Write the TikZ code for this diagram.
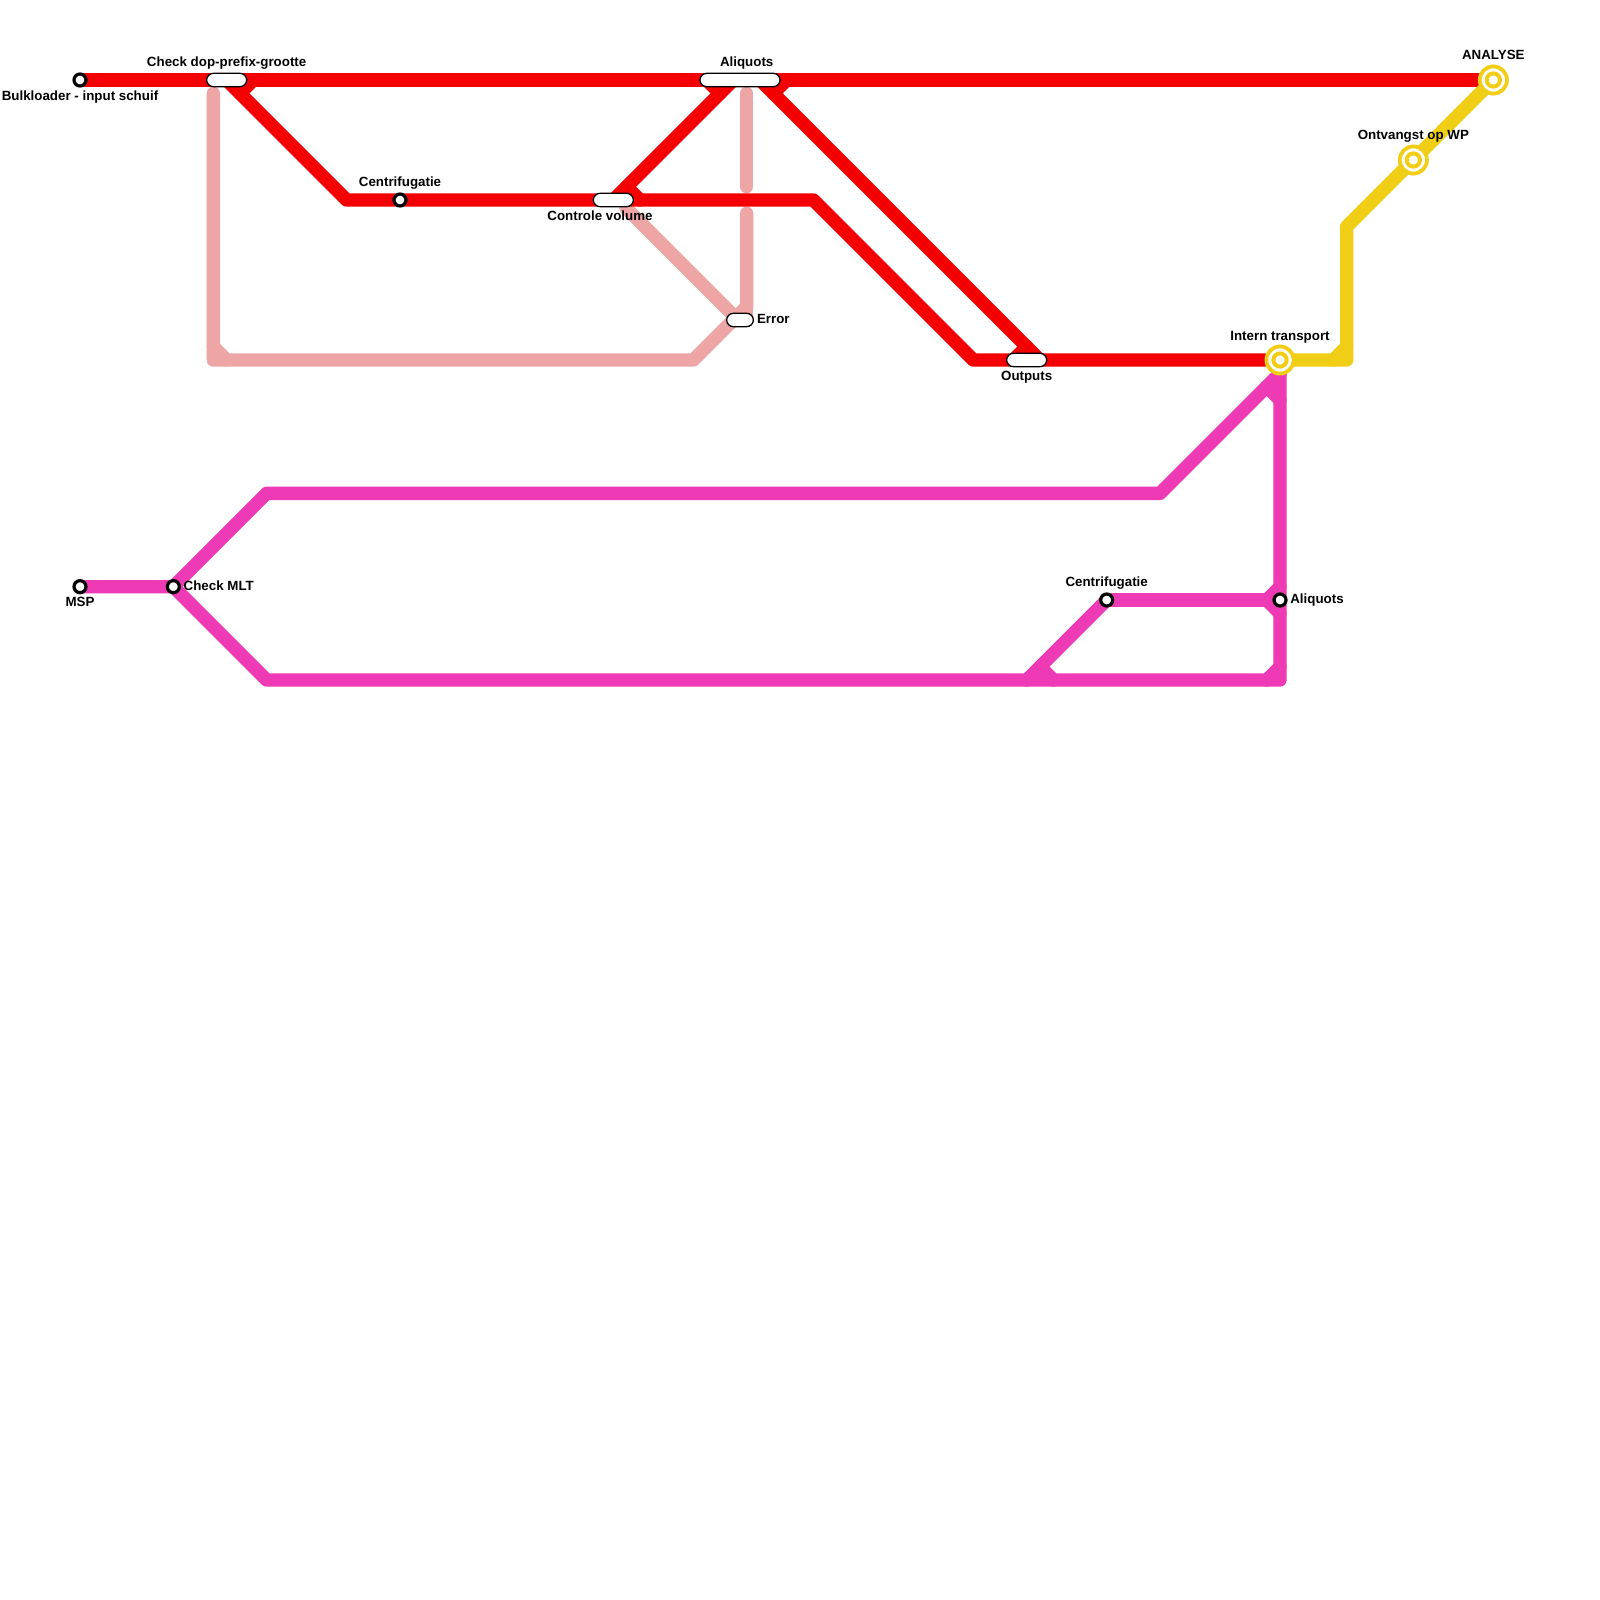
\documentclass[tikz,border=0pt]{standalone}
\usepackage{fontspec}
\setmainfont{Liberation Sans}
\definecolor{cred}{HTML}{F40000}
\definecolor{clight}{HTML}{EDA5A5}
\definecolor{cpink}{HTML}{EF3AB5}
\definecolor{cyellow}{HTML}{F0CE15}
\tikzset{
  route/.style={line width=6.67pt,line cap=round,line join=round},
  redline/.style={route,draw=cred},
  lightline/.style={route,draw=clight},
  pinkline/.style={route,draw=cpink},
  yellowline/.style={route,draw=cyellow},
  pill/.style={draw=black,fill=white,line width=.65pt,rounded corners=3.33pt,minimum height=6.67pt,inner sep=0pt,outer sep=0pt},
  stop/.style={circle,draw=black,fill=white,line width=1.6pt,minimum size=6pt,inner sep=0pt,outer sep=0pt},
  hub/.style={circle,draw=cyellow,fill=white,line width=1.9pt,minimum size=13.6pt,inner sep=0pt,outer sep=0pt},
  hubcore/.style={circle,draw=cyellow,fill=white,line width=2pt,minimum size=6.6pt,inner sep=0pt,outer sep=0pt},
  lab/.style={font=\bfseries\fontsize{6.67pt}{8pt}\selectfont,text=black,inner sep=0pt,anchor=base},
  labl/.style={lab,anchor=base west},
}
\begin{document}
\begin{tikzpicture}[x=.5pt,y=-.5pt]
\useasboundingbox (0,0) rectangle (1600,1600);
\fill[white] (0,0) rectangle (1600,1600);
% way points
\coordinate (bulk) at (80,80);
\coordinate (ana) at (1493.33,80);
\coordinate (r0) at (226.67,80);
\coordinate (r1) at (253.33,80);
\coordinate (r2) at (240,93.33);
\coordinate (r3) at (346.67,200);
\coordinate (r4) at (813.33,200);
\coordinate (r5) at (973.33,360);
\coordinate (int) at (1280,360);
\coordinate (r6) at (706.67,80);
\coordinate (r7) at (720,93.33);
\coordinate (r7a) at (733.33,80);
\coordinate (r8) at (626.67,186.67);
\coordinate (r8a) at (613.33,200);
\coordinate (r9) at (640,200);
\coordinate (r10) at (786.67,80);
\coordinate (r11) at (773.33,93.33);
\coordinate (r11a) at (760,80);
\coordinate (r12) at (1040,360);
\coordinate (r13) at (1026.67,346.67);
\coordinate (r14) at (1013.33,360);
\coordinate (l1) at (213.33,93.33);
\coordinate (l2) at (213.33,360);
\coordinate (l3) at (693.33,360);
\coordinate (l4) at (746.67,306.67);
\coordinate (l4a) at (746.67,320);
\coordinate (l5) at (746.67,213.33);
\coordinate (l6) at (746.67,93.33);
\coordinate (l7) at (746.67,186.67);
\coordinate (l8) at (213.33,346.67);
\coordinate (l9) at (226.67,360);
\coordinate (l10) at (626,208);
\coordinate (l11) at (733,315);
\coordinate (msp) at (80,586.67);
\coordinate (mlt) at (173.33,586.67);
\coordinate (p1) at (266.67,493.33);
\coordinate (p2) at (1160,493.33);
\coordinate (p3) at (1266.67,386.67);
\coordinate (p4) at (1280,400);
\coordinate (p5) at (1280,373.33);
\coordinate (p6) at (266.67,680);
\coordinate (p7) at (1280,680);
\coordinate (p8) at (1266.67,680);
\coordinate (p9) at (1280,666.67);
\coordinate (cen) at (1106.67,600);
\coordinate (ali) at (1280,600);
\coordinate (p10) at (1040,666.67);
\coordinate (p11) at (1053.33,680);
\coordinate (p12) at (1026.67,680);
\coordinate (p13) at (1266.67,600);
\coordinate (p14) at (1280,586.67);
\coordinate (p15) at (1280,613.33);
\coordinate (y1) at (1346.67,360);
\coordinate (y2) at (1346.67,226.67);
\coordinate (y3) at (1333.33,360);
\coordinate (y4) at (1346.67,346.67);
\coordinate (ont) at (1413.33,160);
\coordinate (cen1) at (400,200);
% light routes
\draw[lightline] (l1) -- (l2) -- (l3) -- (l4) -- (l5);
\draw[lightline] (l4) -- (l4a);
\draw[lightline] (l6) -- (l7);
\draw[lightline] (l8) -- (l9);
\draw[lightline] (l10) -- (l11);
% red routes
\draw[redline] (bulk) -- (ana);
\draw[redline] (r0) -- (r3) -- (r4) -- (r5) -- (int);
\draw[redline] (r1) -- (r2);
\draw[redline] (r7a) -- (r8a);
\draw[redline] (r6) -- (r7);
\draw[redline] (r8) -- (r9);
\draw[redline] (r11a) -- (r12);
\draw[redline] (r10) -- (r11);
\draw[redline] (r13) -- (r14);
% pink routes
\draw[pinkline] (msp) -- (mlt) -- (p1) -- (p2) -- (p5);
\draw[pinkline] (p3) -- (p4);
\draw[pinkline] (mlt) -- (p6) -- (p7) -- (int);
\draw[pinkline] (p8) -- (p9);
\draw[pinkline] (cen) -- (ali);
\draw[pinkline] (cen) -- (p10) -- (p11);
\draw[pinkline] (p10) -- (p12);
\draw[pinkline] (p13) -- (p14);
\draw[pinkline] (p13) -- (p15);
% yellow routes
\draw[yellowline] (int) -- (y1) -- (y2) -- (ana);
\draw[yellowline] (y3) -- (y4);
% pills
\node[pill,minimum width=20pt] (sdop) at (226.67,80) {};
\node[pill,minimum width=40pt] (sali) at (740,80) {};
\node[pill,minimum width=20pt] (scon) at (613.33,200) {};
\node[pill,minimum width=20pt] (sout) at (1026.67,360) {};
\node[pill,minimum width=13.33pt] (serr) at (740,320) {};
% stops
\node[stop] (sbulk) at (bulk) {};
\node[stop] (smsp) at (msp) {};
\node[stop] (smlt) at (mlt) {};
\node[stop] (scen1) at (cen1) {};
\node[stop] (scen) at (cen) {};
\node[stop] (sali2) at (ali) {};
% hubs
\foreach \h in {int,ont,ana}{
  \node[hub] (hub\h) at (\h) {};
  \node[hubcore] (core\h) at (\h) {};
}
% labels
\node[lab] (t1) at (80,100.5) {Bulkloader - input schuif};
\node[lab] (t2) at (226.67,66.9) {Check dop-prefix-grootte};
\node[lab] (t3) at (400,186.8) {Centrifugatie};
\node[lab] (t4) at (600,220.2) {Controle volume};
\node[lab] (t5) at (746.67,66.9) {Aliquots};
\node[labl] (t6) at (756.6,323.4) {Error};
\node[lab] (t7) at (1026.67,380.2) {Outputs};
\node[lab] (t8) at (1280,340.7) {Intern transport};
\node[lab] (t9) at (1413.33,140) {Ontvangst op WP};
\node[lab] (t10) at (1493.33,60) {ANALYSE};
\node[labl] (t11) at (183.3,590.2) {Check MLT};
\node[lab] (t12) at (80,606.9) {MSP};
\node[lab] (t13) at (1106.67,586.8) {Centrifugatie};
\node[labl] (t14) at (1289.9,603.8) {Aliquots};
\end{tikzpicture}
\end{document}
